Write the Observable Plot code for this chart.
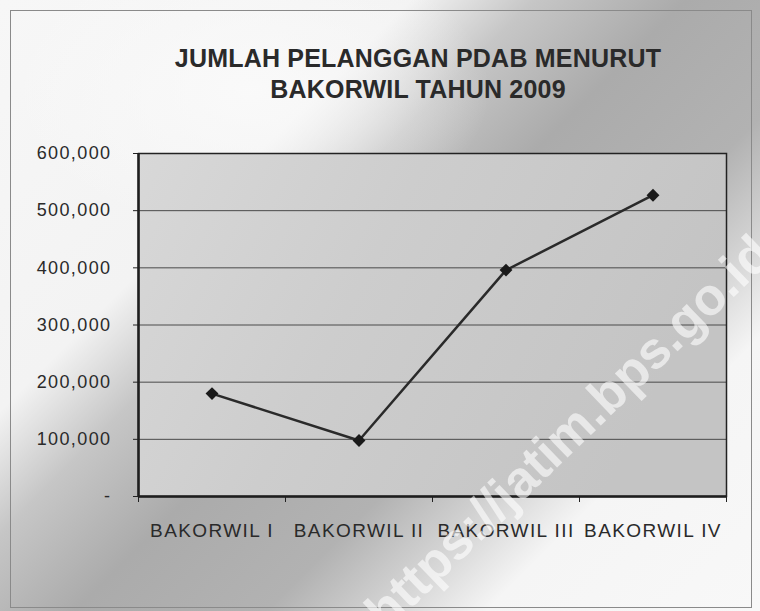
<!DOCTYPE html>
<html>
<head>
<meta charset="utf-8">
<script src="https://cdn.jsdelivr.net/npm/d3@7"></script>
<script src="https://cdn.jsdelivr.net/npm/@observablehq/plot@0.6"></script>
<style>
  html, body { margin: 0; padding: 0; }
  #wrap {
    position: relative; width: 760px; height: 611px; overflow: hidden;
    font-family: "Liberation Sans", Arial, sans-serif;
    background:
      radial-gradient(ellipse 300px 180px at 250px 90px, rgba(250,250,250,0.9), rgba(250,250,250,0) 80%),
      linear-gradient(135deg, #f7f7f7 0%, #f3f3f3 30%, #c6c6c6 39%, #ababab 50%, #b2b2b2 64%, #d6d6d6 73%, #f5f5f5 80%, #f8f8f8 100%);
  }
  #border { position: absolute; left: 10px; top: 10px; width: 742px; height: 598px; border: 1px solid #8a8a8a; box-sizing: border-box; }
  #title {
    position: absolute; left: 0; width: 836px; top: 43px; text-align: center;
    font-weight: bold; font-size: 25px; line-height: 31px; color: #2a2a2a; letter-spacing: 0.2px;
  }
  #chart { position: absolute; left: 0; top: 120px; }
  #chart svg text { letter-spacing: 1.4px; }
  #wm {
    position: absolute; left: 268px; top: 402px; width: 600px; height: 60px; line-height: 60px; text-align: center;
    font-size: 52px; font-weight: bold; color: rgba(255,255,255,0.6);
    transform: rotate(-44deg); transform-origin: 50% 50%; white-space: nowrap;
  }
</style>
</head>
<body>
<div id="wrap">
  <div id="border"></div>
  <div id="title">JUMLAH PELANGGAN PDAB MENURUT<br>BAKORWIL TAHUN 2009</div>
  <div id="chart"></div>
  <div id="wm">https://jatim.bps.go.id</div>
</div>
<script>
const categories = ["BAKORWIL I", "BAKORWIL II", "BAKORWIL III", "BAKORWIL IV"];
const customers = [180000, 98000, 396000, 527000];
const yTicks = [0, 100000, 200000, 300000, 400000, 500000, 600000];

const rows = categories.map((c, i) => ({cat: c, pos: i + 0.5, value: customers[i]}));
const boundaries = d3.range(categories.length + 1);
const fmt = d3.format(",");

const chart = Plot.plot({
  width: 760,
  height: 470,
  marginTop: 33,
  marginBottom: 94,
  marginLeft: 138,
  marginRight: 34,
  style: {background: "transparent", fontFamily: "'Liberation Sans', Arial, sans-serif", fontSize: "18px", color: "#2a2a2a"},
  x: {type: "linear", domain: [0, categories.length]},
  y: {domain: [0, 600000]},
  marks: [
    Plot.frame({fill: "url(#plotbg)", stroke: "none"}),
    Plot.ruleY(yTicks.slice(1), {stroke: "#4a4a4a", strokeWidth: 1}),
    Plot.frame({stroke: "#222", strokeWidth: 1.5}),
    Plot.axisY({ticks: yTicks, tickFormat: d => d === 0 ? "-" : fmt(d), tickSize: 5, tickPadding: 22, fontSize: 18, stroke: "#222", label: null}),
    Plot.axisX({ticks: boundaries, tickFormat: () => "", tickSize: 6, stroke: "#222", label: null}),
    Plot.ruleX([0], {stroke: "#1e1e1e", strokeWidth: 2.5}),
    Plot.ruleY([0], {stroke: "#1e1e1e", strokeWidth: 2.5}),
    Plot.text(rows, {x: "pos", text: "cat", frameAnchor: "bottom", lineAnchor: "top", dy: 27, fontSize: 19, fill: "#2a2a2a"}),
    Plot.line(rows, {x: "pos", y: "value", stroke: "#2a2a2a", strokeWidth: 2.5}),
    Plot.dot(rows, {x: "pos", y: "value", symbol: "diamond2", r: 5.8, fill: "#1a1a1a", stroke: "none"})
  ]
});
const ns = "http://www.w3.org/2000/svg";
const defs = document.createElementNS(ns, "defs");
defs.innerHTML = '<linearGradient id="plotbg" x1="0" y1="0" x2="1" y2="0.3">' +
  '<stop offset="0" stop-color="#d8d8d8"/><stop offset="0.45" stop-color="#cdcdcd"/>' +
  '<stop offset="1" stop-color="#c4c4c4"/></linearGradient>';
chart.insertBefore(defs, chart.firstChild);
document.getElementById("chart").appendChild(chart);
</script>
</body>
</html>
